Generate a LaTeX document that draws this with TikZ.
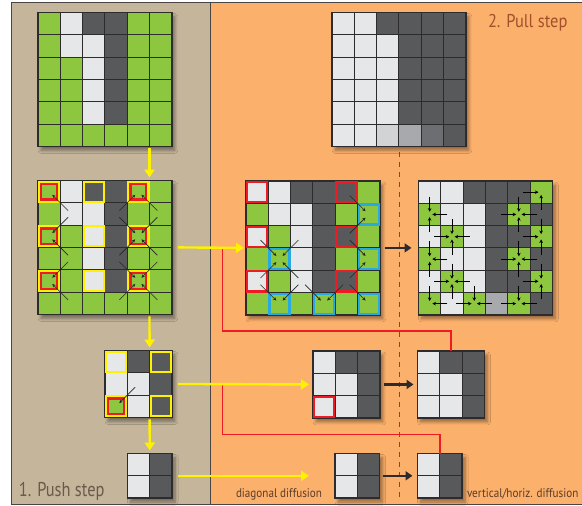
\documentclass[tikz,border=0pt]{standalone}
\usepackage{fontspec}
\newfontfamily\condfont[FakeStretch=0.82]{PT Sans}
\newfontfamily\condfontb[FakeStretch=0.89]{PT Sans}
\usetikzlibrary{arrows.meta,shadows.blur}
\definecolor{cG}{HTML}{8DC63F}
\definecolor{cL}{HTML}{E6E7E8}
\definecolor{cD}{HTML}{58595B}
\definecolor{cA}{HTML}{D1D3D4}
\definecolor{cB}{HTML}{A7A9AC}
\definecolor{cC}{HTML}{6D6E71}
\definecolor{tanbg}{HTML}{C4B59B}
\definecolor{orbg}{HTML}{FBB06C}
\definecolor{gline}{HTML}{2E2B2C}
\definecolor{yel}{HTML}{FFF200}
\definecolor{redc}{HTML}{ED1C24}
\definecolor{bluec}{HTML}{27AAE1}
\definecolor{pushc}{HTML}{6B5A4C}
\definecolor{pullc}{HTML}{A34F2C}
\definecolor{labc}{HTML}{5A3B2A}
\definecolor{framec}{HTML}{4A4542}
\newcommand\cs{22.3}
\newcommand\mkgrid[3]{%
  \node[gridshadow, minimum size=#2*\cs*1pt, anchor=north west] (#1) at (0,0) {};
  \foreach \cc [count=\k from 0] in {#3} {
    \pgfmathtruncatemacro\rr{floor(\k/#2)}
    \pgfmathtruncatemacro\qq{mod(\k,#2)}
    \fill[\cc] (\qq*\cs,\rr*\cs) rectangle ++(\cs,\cs);
  }
  \foreach \cc [count=\k from 0] in {#3} {
    \pgfmathtruncatemacro\rr{floor(\k/#2)}
    \pgfmathtruncatemacro\qq{mod(\k,#2)}
    \draw[cellline] (\qq*\cs,\rr*\cs) rectangle ++(\cs,\cs);
  }
  \draw[outerline] (#1.north west) rectangle (#1.south east);
}
% highlight frame: row, col, colour, inset
\newcommand\hlc[4]{\draw[#3, line width=2.2pt] ({#2*\cs+#4},{#1*\cs+#4}) rectangle ({(#2+1)*\cs-#4},{(#1+1)*\cs-#4});}
% diagonal push/pull arrow: target row, col, dr, dc, style
\newcommand\parr[5]{\draw[#5] ({(#2+0.5+(#4)*0.85)*\cs},{(#1+0.5+(#3)*0.85)*\cs}) -- ({(#2+0.5+(#4)*0.14)*\cs},{(#1+0.5+(#3)*0.14)*\cs});}
% orthogonal arrow
\newcommand\oarr[4]{\draw[oarrow] ({(#2+0.5+(#4)*0.8)*\cs},{(#1+0.5+(#3)*0.8)*\cs}) -- ({(#2+0.5+(#4)*0.12)*\cs},{(#1+0.5+(#3)*0.12)*\cs});}
\tikzset{
  gridshadow/.style={fill=cL, inner sep=0pt, outer sep=0pt,
    blur shadow={shadow xshift=3pt, shadow yshift=-4pt, shadow blur radius=3pt, shadow opacity=40, shadow blur steps=8}},
  cellline/.style={draw=gline, line width=0.9pt},
  outerline/.style={draw=gline, line width=1.4pt},
  yarr/.style={draw=yel, line width=2.4pt, -{Triangle[length=8pt,width=10pt]}},
  barr/.style={draw=gline, line width=2.2pt, -{Triangle[length=7pt,width=9pt]}},
  darr/.style={draw=black!85, line width=0.6pt, -{Stealth[length=3.4pt,width=3.2pt]}},
  oarrow/.style={draw=black, line width=0.9pt, -{Stealth[length=3.6pt,width=3.6pt]}},
  redline/.style={draw=redc, line width=1.4pt},
  lbl/.style={anchor=base west, inner sep=0pt, outer sep=0pt},
}
\begin{document}
\begin{tikzpicture}[x=1pt,y=-1pt]
\useasboundingbox (0,0) rectangle (582,506);
\fill[white] (0,0) rectangle (582,506);
\fill[tanbg] (11,2.5) rectangle (210,504.5);
\fill[orbg] (210,2.5) rectangle (590,504.5);
\draw[framec, line width=1pt] (11,2.5) rectangle (590,504.5);
\draw[framec, line width=1pt] (210,2.5) -- (210,504.5);
% dashed separator
\draw[cD, line width=1.2pt, dash pattern=on 4.5pt off 5.5pt] (399.3,152) -- (399.3,502);

% ---- grids ----
\begin{scope}[shift={(38,12.5)}]
\mkgrid{g1}{6}{cG,cL,cD,cD,cG,cG,cG,cL,cL,cD,cG,cG,cG,cG,cL,cD,cG,cG,cG,cG,cL,cD,cG,cG,cG,cG,cL,cD,cG,cG,cG,cG,cG,cG,cG,cG}
\end{scope}

\begin{scope}[shift={(38,180.5)}]
\mkgrid{g2}{6}{cG,cL,cD,cD,cG,cG,cG,cL,cL,cD,cG,cG,cG,cG,cL,cD,cG,cG,cG,cG,cL,cD,cG,cG,cG,cG,cL,cD,cG,cG,cG,cG,cG,cG,cG,cG}
\foreach \a/\b in {0/0,0/2,0/4,2/0,2/2,2/4,4/0,4/2,4/4} {\hlc{\a}{\b}{yel}{1.1}}
\foreach \a/\b in {0/0,0/4,2/0,2/4,4/0,4/4} {\hlc{\a}{\b}{redc}{3.3}}
\foreach \a/\b/\c/\d in {0/0/1/1, 2/0/-1/1, 2/0/1/1, 4/0/-1/1, 4/0/1/1,
  0/4/1/-1, 0/4/1/1, 2/4/-1/-1, 2/4/-1/1, 2/4/1/-1, 2/4/1/1,
  4/4/-1/-1, 4/4/-1/1, 4/4/1/-1, 4/4/1/1} {\parr{\a}{\b}{\c}{\d}{darr}}
\end{scope}

\begin{scope}[shift={(105,350.5)}]
\mkgrid{g4}{3}{cL,cD,cD,cL,cL,cD,cG,cL,cD}
\foreach \a/\b in {0/0,0/2,2/0,2/2} {\hlc{\a}{\b}{yel}{1.1}}
\hlc{2}{0}{redc}{3.3}
\parr{2}{0}{-1}{1}{darr}
\end{scope}

\begin{scope}[shift={(127.5,453.5)}]
\mkgrid{g5}{2}{cL,cD,cL,cD}
\end{scope}

\begin{scope}[shift={(332,12.5)}]
\mkgrid{gr}{6}{cL,cL,cD,cD,cD,cD,cL,cL,cL,cD,cD,cD,cL,cL,cL,cD,cD,cD,cL,cL,cL,cD,cD,cD,cL,cL,cL,cD,cD,cD,cL,cL,cA,cB,cC,cD}
\end{scope}

\begin{scope}[shift={(246,181)}]
\mkgrid{g3}{6}{cL,cL,cD,cD,cD,cG,cG,cL,cL,cD,cG,cG,cL,cG,cL,cD,cD,cG,cG,cG,cL,cD,cG,cG,cL,cG,cL,cD,cD,cG,cG,cG,cG,cG,cG,cG}
\foreach \a/\b in {0/0,0/4,2/0,2/4,4/0,4/4} {\hlc{\a}{\b}{redc}{1.1}}
\foreach \a/\b in {1/5,3/1,3/5,5/1,5/3,5/5} {\hlc{\a}{\b}{bluec}{1.1}}
\foreach \a/\b/\c/\d in {1/5/-1/-1, 1/5/1/-1, 3/1/-1/-1, 3/1/-1/1, 3/1/1/-1, 3/1/1/1,
  3/5/-1/-1, 3/5/1/-1, 5/1/-1/-1, 5/1/-1/1, 5/3/-1/-1, 5/3/-1/1, 5/5/-1/-1} {\parr{\a}{\b}{\c}{\d}{darr}}
\end{scope}

\begin{scope}[shift={(418.5,181)}]
\mkgrid{g6}{6}{cL,cL,cD,cD,cD,cG,cG,cL,cL,cD,cG,cD,cL,cG,cL,cD,cD,cG,cG,cL,cL,cD,cG,cD,cL,cG,cL,cD,cD,cG,cG,cL,cG,cB,cG,cD}
\foreach \a/\b/\c/\d in {0/5/0/-1, 0/5/1/0,
  1/0/-1/0, 1/0/1/0, 1/0/0/1,
  1/4/-1/0, 1/4/1/0, 1/4/0/-1, 1/4/0/1,
  2/1/-1/0, 2/1/1/0, 2/1/0/-1, 2/1/0/1,
  2/5/-1/0, 2/5/1/0, 2/5/0/-1,
  3/0/-1/0, 3/0/1/0, 3/0/0/1,
  3/4/-1/0, 3/4/1/0, 3/4/0/-1, 3/4/0/1,
  4/1/-1/0, 4/1/1/0, 4/1/0/-1, 4/1/0/1,
  4/5/-1/0, 4/5/1/0, 4/5/0/-1,
  5/0/-1/0, 5/0/0/1,
  5/2/-1/0, 5/2/0/-1, 5/2/0/1,
  5/4/-1/0, 5/4/0/-1, 5/4/0/1} {\oarr{\a}{\b}{\c}{\d}}
\end{scope}

\begin{scope}[shift={(313,351)}]
\mkgrid{g7}{3}{cL,cD,cD,cL,cL,cD,cL,cL,cD}
\hlc{2}{0}{redc}{1.1}
\end{scope}

\begin{scope}[shift={(417.5,351)}]
\mkgrid{g8}{3}{cL,cD,cD,cL,cL,cD,cL,cL,cD}
\end{scope}

\begin{scope}[shift={(335,453.5)}]
\mkgrid{g9}{2}{cL,cD,cL,cD}
\end{scope}

\begin{scope}[shift={(417.5,453.5)}]
\mkgrid{g10}{2}{cL,cD,cL,cD}
\end{scope}

% ---- red links ----
\draw[redline] ([xshift=-23.7pt]g3.west) |- ([yshift=20pt]g8.north) -- (g8.north);
\draw[redline] ([xshift=-90.7pt]g7.west) |- ([yshift=19pt]g10.north) -- (g10.north);

% ---- yellow push arrows ----
\draw[yarr] ([xshift=-22.3pt,yshift=-2pt]g1.south east) -- ([xshift=-22.3pt,yshift=3pt]g2.north east);
\draw[yarr] ([xshift=-22.3pt,yshift=-2pt]g2.south east) -- ([xshift=-22.3pt,yshift=3pt]g4.north east);
\draw[yarr] ([xshift=-22.3pt,yshift=-2pt]g4.south east) -- ([yshift=3pt]g5.north);
\draw[yarr] ([xshift=6pt]g2.east) -- ([xshift=-2pt]g3.west);
\draw[yarr] ([xshift=6pt]g4.east) -- ([xshift=-4pt]g7.west);
\coordinate (a6end) at ([xshift=-26pt]g9.west);
\draw[yarr] ([xshift=6pt]g5.east) -- (a6end);

% ---- black pull arrows ----
\draw[barr] ([xshift=5pt]g3.east) -- ([xshift=-7pt]g6.west);
\draw[barr] ([xshift=4pt]g7.east) -- ([xshift=-4pt]g8.west);
\draw[barr] ([xshift=3pt]g9.east) -- ([xshift=-5pt]g10.west);

% ---- labels ----
\node[lbl, font=\condfont\fontsize{20}{24}\selectfont, text=pushc] (pushlbl) at (19,496) {1. Push step};
\node[lbl, font=\condfontb\fontsize{18.5}{22}\selectfont, text=pullc] (pulllbl) at (488,27.5) {2. Pull step};
\node[lbl, font=\condfontb\fontsize{12.5}{15}\selectfont, text=labc] (diaglbl) at (236,497) {diagonal diffusion};
\node[lbl, font=\condfontb\fontsize{12.5}{15}\selectfont, text=labc] (vhlbl) at (467,497) {vertical/horiz. diffusion};
\end{tikzpicture}
\end{document}
